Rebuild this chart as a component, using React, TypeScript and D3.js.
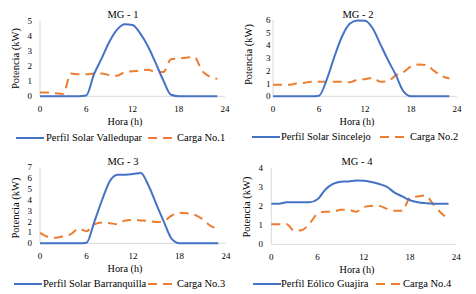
import React from "react";
import * as d3 from "d3";

const hours = d3.range(0, 24);
const xTicks = [0, 6, 12, 18, 24];

const solar1 = [0, 0, 0, 0, 0, 0, 0.05, 1.45, 2.5, 3.6, 4.4, 4.75, 4.7, 4.15, 3.3, 2.2, 1.05, 0.1, 0, 0, 0, 0, 0, 0];
const load1 = [0.25, 0.25, 0.2, 0.15, 1.5, 1.45, 1.45, 1.5, 1.5, 1.4, 1.35, 1.6, 1.65, 1.7, 1.75, 1.6, 1.6, 2.45, 2.5, 2.55, 2.6, 1.7, 1.3, 1.15];

const solar2 = [0, 0, 0, 0, 0, 0, 0.05, 1.3, 3.1, 4.7, 5.7, 5.97, 5.95, 5.35, 4.1, 2.85, 1.7, 0.4, 0, 0, 0, 0, 0, 0];
const load2 = [0.9, 0.9, 0.9, 1.0, 1.05, 1.15, 1.15, 1.15, 1.15, 1.15, 1.1, 1.3, 1.35, 1.45, 1.15, 1.2, 1.65, 1.9, 2.35, 2.5, 2.45, 2.0, 1.6, 1.4];

const solar3 = [0, 0, 0, 0, 0, 0, 0.05, 1.95, 3.95, 5.7, 6.3, 6.3, 6.35, 6.45, 5.3, 3.6, 1.95, 0.4, 0, 0, 0, 0, 0, 0];
const load3 = [0.95, 0.6, 0.5, 0.65, 0.85, 1.35, 1.1, 1.75, 1.9, 1.85, 1.75, 2.1, 2.15, 2.1, 2.05, 1.95, 2.05, 2.55, 2.8, 2.75, 2.6, 2.2, 1.6, 1.35];

const wind4 = [2.12, 2.12, 2.2, 2.2, 2.2, 2.2, 2.35, 2.85, 3.15, 3.27, 3.28, 3.33, 3.32, 3.25, 3.15, 3.0, 2.7, 2.5, 2.3, 2.2, 2.15, 2.12, 2.12, 2.12];
const load4 = [1.05, 1.05, 1.05, 0.7, 0.75, 1.1, 1.6, 1.7, 1.7, 1.8, 1.8, 1.7, 1.95, 2.0, 2.0, 1.85, 1.75, 1.75, 2.45, 2.5, 2.55, 2.1, 1.65, 1.3];

const titles = ["MG - 1", "MG - 2", "MG - 3", "MG - 4"];
const genNames = ["Perfil Solar Valledupar", "Perfil Solar Sincelejo", "Perfil Solar Barranquilla", "Perfil Eólico Guajira"];
const loadNames = ["Carga No.1", "Carga No.2", "Carga No.3", "Carga No.4"];
const yMaxes = [5, 6, 7, 4];
const genSeries = [solar1, solar2, solar3, wind4];
const loadSeries = [load1, load2, load3, load4];

const BLUE = "#4472C4";
const ORANGE = "#ED7D31";
const AXIS = "#D9D9D9";
const FONT = "'Liberation Serif', 'DejaVu Serif', serif";

type Layout = {
  x0: number; x1: number; y0: number; y1: number;
  titleX: number; titleY: number;
  ylabX: number; ylabY: number;
  tickR: number; xTickY: number;
  horaX: number; horaY: number;
  legY: number; legLine: number; legText1: number; legDash: number; legText2: number;
};

const layouts: Layout[] = [
  { x0: 40, x1: 225, y0: 96.3, y1: 20.5, titleX: 123, titleY: 17.5, ylabX: 15, ylabY: 58.5, tickR: 32, xTickY: 111.5, horaX: 125, horaY: 124.5, legY: 141, legLine: 16, legText1: 46, legDash: 148, legText2: 177 },
  { x0: 273, x1: 457, y0: 96.3, y1: 20, titleX: 358, titleY: 17.5, ylabX: 248, ylabY: 54.5, tickR: 270.5, xTickY: 111.5, horaX: 357, horaY: 124.5, legY: 140, legLine: 252, legText1: 281, legDash: 380, legText2: 410 },
  { x0: 40, x1: 226, y0: 243.3, y1: 167, titleX: 123, titleY: 164.5, ylabX: 15, ylabY: 208, tickR: 32, xTickY: 258.5, horaX: 125, horaY: 271.5, legY: 287, legLine: 14, legText1: 43, legDash: 148, legText2: 177 },
  { x0: 271.3, x1: 456.3, y0: 244.3, y1: 167.7, titleX: 357, titleY: 164.5, ylabX: 246.5, ylabY: 207, tickR: 263, xTickY: 259.5, horaX: 357, horaY: 272.5, legY: 287, legLine: 253, legText1: 281, legDash: 376, legText2: 403 },
];

function Panel({ i }: { i: number }) {
  const L = layouts[i];
  const x = d3.scaleLinear().domain([0, 24]).range([L.x0, L.x1]);
  const y = d3.scaleLinear().domain([0, yMaxes[i]]).range([L.y0, L.y1]);
  const line = d3
    .line<number>()
    .x((_, k) => x(hours[k]))
    .y((d) => y(d))
    .curve(d3.curveMonotoneX);
  const yTicks = d3.range(0, yMaxes[i] + 1);
  return (
    <g>
      <text x={L.titleX} y={L.titleY} textAnchor="middle" fontSize={10.5} fill="#000">{titles[i]}</text>
      <line x1={L.x0} x2={L.x0} y1={L.y1} y2={L.y0} stroke={AXIS} strokeWidth={1} />
      <line x1={L.x0} x2={L.x1} y1={L.y0} y2={L.y0} stroke={AXIS} strokeWidth={1} />
      {yTicks.map((t) => (
        <text key={"y" + t} x={L.tickR} y={y(t) + 3} textAnchor="end" fontSize={9} fill="#000">{t}</text>
      ))}
      {xTicks.map((t) => (
        <text key={"x" + t} x={x(t)} y={L.xTickY} textAnchor="middle" fontSize={9} fill="#000">{t}</text>
      ))}
      <text x={L.horaX} y={L.horaY} textAnchor="middle" fontSize={10.2} fill="#000">Hora (h)</text>
      <text transform={`translate(${L.ylabX + 3.5},${L.ylabY}) rotate(-90)`} textAnchor="middle" fontSize={10.5} fill="#000">Potencia (kW)</text>
      <path d={line(loadSeries[i]) || ""} fill="none" stroke={ORANGE} strokeWidth={2} strokeDasharray="9,6" />
      <path d={line(genSeries[i]) || ""} fill="none" stroke={BLUE} strokeWidth={2} />
      <line x1={L.legLine} x2={L.legLine + 28} y1={L.legY - 3} y2={L.legY - 3} stroke={BLUE} strokeWidth={2} />
      <text x={L.legText1} y={L.legY} fontSize={10.5} fill="#000">{genNames[i]}</text>
      <line x1={L.legDash} x2={L.legDash + 24} y1={L.legY - 3} y2={L.legY - 3} stroke={ORANGE} strokeWidth={2} strokeDasharray="9,6" />
      <text x={L.legText2} y={L.legY} fontSize={10.5} fill="#000">{loadNames[i]}</text>
    </g>
  );
}

export default function App() {
  return (
    <svg
      width={476}
      height={294}
      style={{ position: "absolute", left: 0, top: 0, display: "block", background: "#fff", fontFamily: FONT }}
    >
      <rect width={476} height={294} fill="#fff" />
      {[0, 1, 2, 3].map((i) => (
        <Panel key={i} i={i} />
      ))}
    </svg>
  );
}
